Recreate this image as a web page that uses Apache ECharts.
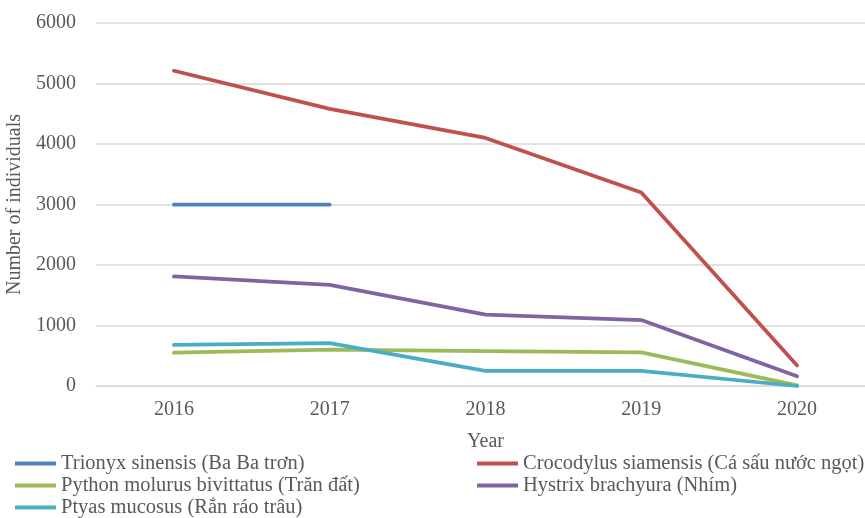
<!DOCTYPE html>
<html>
<head>
<meta charset="utf-8">
<script src="https://cdn.jsdelivr.net/npm/echarts@6/dist/echarts.min.js"></script>
<style>
  html, body { margin: 0; padding: 0; background: #fff; }
  #main { width: 865px; height: 518px; }
</style>
</head>
<body>
<div id="main"></div>
<script>
// data
var years = ['2016', '2017', '2018', '2019', '2020'];
var trionyx = [3000, 3000, null, null, null];
var crocodylus = [5210, 4580, 4100, 3200, 340];
var python = [550, 600, 575, 555, 10];
var hystrix = [1810, 1670, 1180, 1090, 160];
var ptyas = [680, 710, 250, 250, 0];

var names = [
  'Trionyx sinensis (Ba Ba trơn)',
  'Crocodylus siamensis (Cá sấu nước ngọt)',
  'Python molurus bivittatus (Trăn đất)',
  'Hystrix brachyura (Nhím)',
  'Ptyas mucosus (Rắn ráo trâu)'
];
var colors = ['#4f81bd', '#c0504d', '#9bbb59', '#8064a2', '#4bacc6'];
var values = [trionyx, crocodylus, python, hystrix, ptyas];

var font = 'Liberation Serif';
var textColor = '#595959';

var myChart = echarts.init(document.getElementById('main'));

var legendBase = {
  orient: 'vertical',
  top: 453,
  height: 80,
  padding: 0,
  icon: 'rect',
  itemWidth: 41,
  itemHeight: 4,
  itemGap: 1,
  textStyle: { fontFamily: font, fontSize: 20.5, color: textColor, lineHeight: 20 }
};

var option = {
  animation: false,
  color: colors,
  grid: { left: 96, top: 23, width: 779, height: 363, containLabel: false, outerBoundsMode: 'none' },
  legend: [
    Object.assign({}, legendBase, { left: 15, data: [names[0], names[2], names[4]] }),
    Object.assign({}, legendBase, { left: 477, data: [names[1], names[3]] })
  ],
  xAxis: {
    type: 'category',
    data: years,
    name: 'Year',
    nameLocation: 'middle',
    nameGap: 46,
    nameTextStyle: { fontFamily: font, fontSize: 20, color: textColor },
    axisLine: { lineStyle: { color: '#d9d9d9', width: 1.5 } },
    axisTick: { show: false },
    axisLabel: { fontFamily: font, fontSize: 20, color: textColor, margin: 14 }
  },
  yAxis: {
    type: 'value',
    min: 0,
    max: 6000,
    interval: 1000,
    name: 'Number of individuals',
    nameLocation: 'middle',
    nameGap: 64,
    nameTextStyle: { fontFamily: font, fontSize: 20, color: textColor },
    axisLine: { show: false },
    axisTick: { show: false },
    axisLabel: {
      fontFamily: font, fontSize: 20, color: textColor, margin: 20,
      formatter: function (v) { return String(v); }
    },
    splitLine: { lineStyle: { color: '#d9d9d9', width: 1.5 } }
  },
  series: values.map(function (v, i) {
    return {
      name: names[i],
      type: 'line',
      data: v,
      symbol: 'none',
      lineStyle: { width: 3.75, cap: 'round', join: 'round', color: colors[i] },
      itemStyle: { color: colors[i] }
    };
  })
};

myChart.setOption(option);
</script>
</body>
</html>
